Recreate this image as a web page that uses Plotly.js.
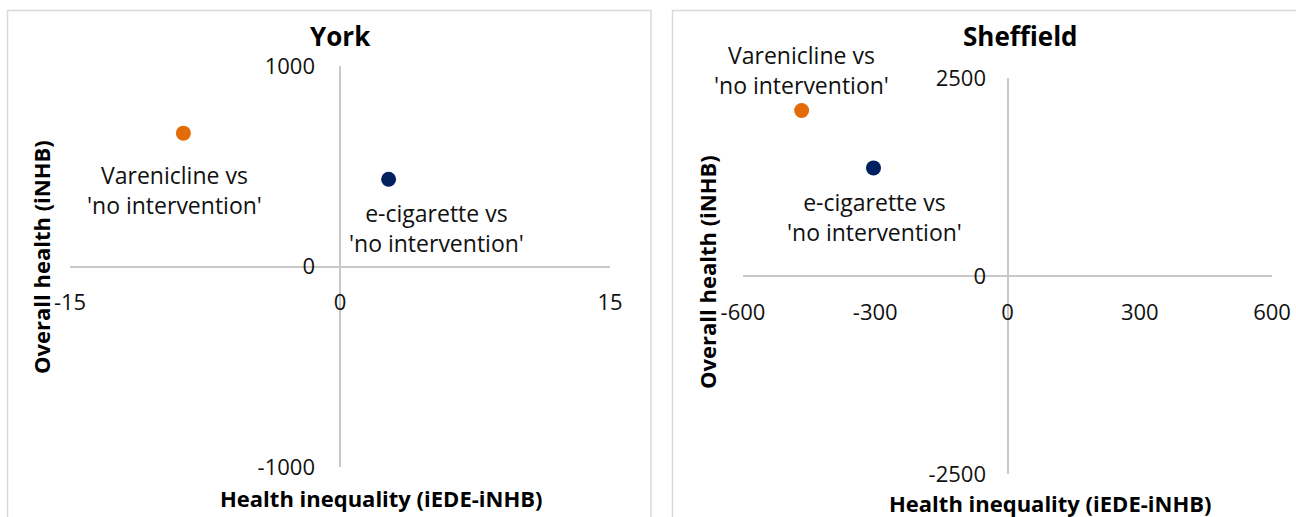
<!DOCTYPE html>
<html>
<head>
<meta charset="utf-8">
<script src="https://cdn.plot.ly/plotly-3.0.1.min.js"></script>
<style>html,body{margin:0;padding:0;background:#fff;}#chart{width:1296px;height:517px;}</style>
</head>
<body>
<div id="chart"></div>
<script>
// ---- data ----
const panels = ["York", "Sheffield"];
const comparisons = ["Varenicline vs<br>'no intervention'", "e-cigarette vs<br>'no intervention'"];
const yorkInequality = [-8.7, 2.7];      // Health inequality (iEDE-iNHB)
const yorkHealth = [665, 435];           // Overall health (iNHB)
const sheffieldInequality = [-467, -304];
const sheffieldHealth = [2090, 1365];
const yorkXTicks = [-15, 0, 15];
const yorkXTickText = ["-15", "0", "15"];
const yorkYTicks = [-1000, 0, 1000];
const yorkYTickText = ["-1000", "0", "1000"];
const sheffieldXTicks = [-600, -300, 0, 300, 600];
const sheffieldXTickText = ["-600", "-300", "0", "300", "600"];
const sheffieldYTicks = [-2500, 0, 2500];
const sheffieldYTickText = ["-2500", "0", "2500"];
const yorkXRange = [-15, 15];
const yorkYRange = [-1000, 1000];
const sheffieldXRange = [-600, 600];
const sheffieldYRange = [-2500, 2500];
const xTitle = "Health inequality (iEDE-iNHB)";
const yTitle = "Overall health (iNHB)";

// ---- styles ----
const W = 1296, H = 517;
const colors = ["#E36C09", "#002060"];
const regFont = "'Open Sans', 'Liberation Sans', sans-serif";
const boldFont = "'Open Sans', 'Liberation Sans', sans-serif";
const px = v => v / W;
const py = v => 1 - v / H;

const traces = [
  {x: yorkInequality, y: yorkHealth, xaxis: 'x', yaxis: 'y', mode: 'markers', type: 'scatter',
   marker: {color: colors, size: 15}, hoverinfo: 'skip'},
  {x: sheffieldInequality, y: sheffieldHealth, xaxis: 'x2', yaxis: 'y2', mode: 'markers', type: 'scatter',
   marker: {color: colors, size: 15}, hoverinfo: 'skip'}
];

const zl = {zeroline: true, zerolinecolor: '#c8c8c8', zerolinewidth: 2, showgrid: false, showline: false,
  ticks: '', tickmode: 'array', tickfont: {family: regFont, size: 22, color: '#111'}, fixedrange: true};

const layout = {
  width: W, height: H, margin: {l: 0, r: 0, t: 0, b: 0},
  paper_bgcolor: '#fff', plot_bgcolor: 'rgba(0,0,0,0)', showlegend: false,
  xaxis: Object.assign({}, zl, {domain: [px(70), px(610)], range: yorkXRange,
    tickvals: yorkXTicks, ticktext: yorkXTickText,
    anchor: 'free', position: py(266), ticklabelstandoff: 21}),
  yaxis: Object.assign({}, zl, {domain: [py(467), py(66)], range: yorkYRange,
    tickvals: yorkYTicks, ticktext: yorkYTickText,
    anchor: 'free', position: px(339), ticklabelstandoff: 24}),
  xaxis2: Object.assign({}, zl, {domain: [px(743), px(1272)], range: sheffieldXRange,
    tickvals: sheffieldXTicks, ticktext: sheffieldXTickText,
    anchor: 'free', position: py(276), ticklabelstandoff: 21}),
  yaxis2: Object.assign({}, zl, {domain: [py(474), py(78)], range: sheffieldYRange,
    tickvals: sheffieldYTicks, ticktext: sheffieldYTickText,
    anchor: 'free', position: px(1008), ticklabelstandoff: 22}),
  shapes: [
    {type: 'rect', xref: 'paper', yref: 'paper', x0: px(7.5), x1: px(651), y0: -0.1, y1: py(10.5),
     line: {color: '#d9d9d9', width: 1.5}, fillcolor: 'rgba(0,0,0,0)', layer: 'below'},
    {type: 'rect', xref: 'paper', yref: 'paper', x0: px(672.5), x1: 1.1, y0: -0.1, y1: py(10.5),
     line: {color: '#d9d9d9', width: 1.5}, fillcolor: 'rgba(0,0,0,0)', layer: 'below'}
  ],
  annotations: []
};

const ann = layout.annotations;
const titleFont = {family: boldFont, size: 26, color: '#000'};
const axTitleFont = {family: boldFont, size: 22, color: '#000'};
const cen = {xanchor: 'center', yanchor: 'middle', showarrow: false, xref: 'paper', yref: 'paper'};
ann.push(Object.assign({text: '<b>' + panels[0] + '</b>', x: px(340), y: py(36), font: titleFont}, cen));
ann.push(Object.assign({text: '<b>' + panels[1] + '</b>', x: px(1020), y: py(36), font: titleFont}, cen));
ann.push(Object.assign({text: '<b>' + xTitle + '</b>', x: px(381), y: py(498), font: axTitleFont}, cen));
ann.push(Object.assign({text: '<b>' + xTitle + '</b>', x: px(1050), y: py(503), font: axTitleFont}, cen));
ann.push(Object.assign({text: '<b>' + yTitle + '</b>', x: px(41), y: py(257), textangle: -90, font: axTitleFont}, cen));
ann.push(Object.assign({text: '<b>' + yTitle + '</b>', x: px(707), y: py(272), textangle: -90, font: axTitleFont}, cen));

const labFont = {family: regFont, size: 23, color: '#111'};
const yorkShift = [[-9, -57], [48, -49]];
const sheffShift = [[0, 40], [1, -49]];
comparisons.forEach((c, i) => {
  ann.push({text: c, xref: 'x', yref: 'y', x: yorkInequality[i], y: yorkHealth[i], showarrow: false,
    xanchor: 'center', yanchor: 'middle',
    xshift: yorkShift[i][0], yshift: yorkShift[i][1], font: labFont, align: 'center'});
  ann.push({text: c, xref: 'x2', yref: 'y2', x: sheffieldInequality[i], y: sheffieldHealth[i], showarrow: false,
    xanchor: 'center', yanchor: 'middle',
    xshift: sheffShift[i][0], yshift: sheffShift[i][1], font: labFont, align: 'center'});
});

Plotly.newPlot('chart', traces, layout, {displayModeBar: false, staticPlot: true});
</script>
</body>
</html>
